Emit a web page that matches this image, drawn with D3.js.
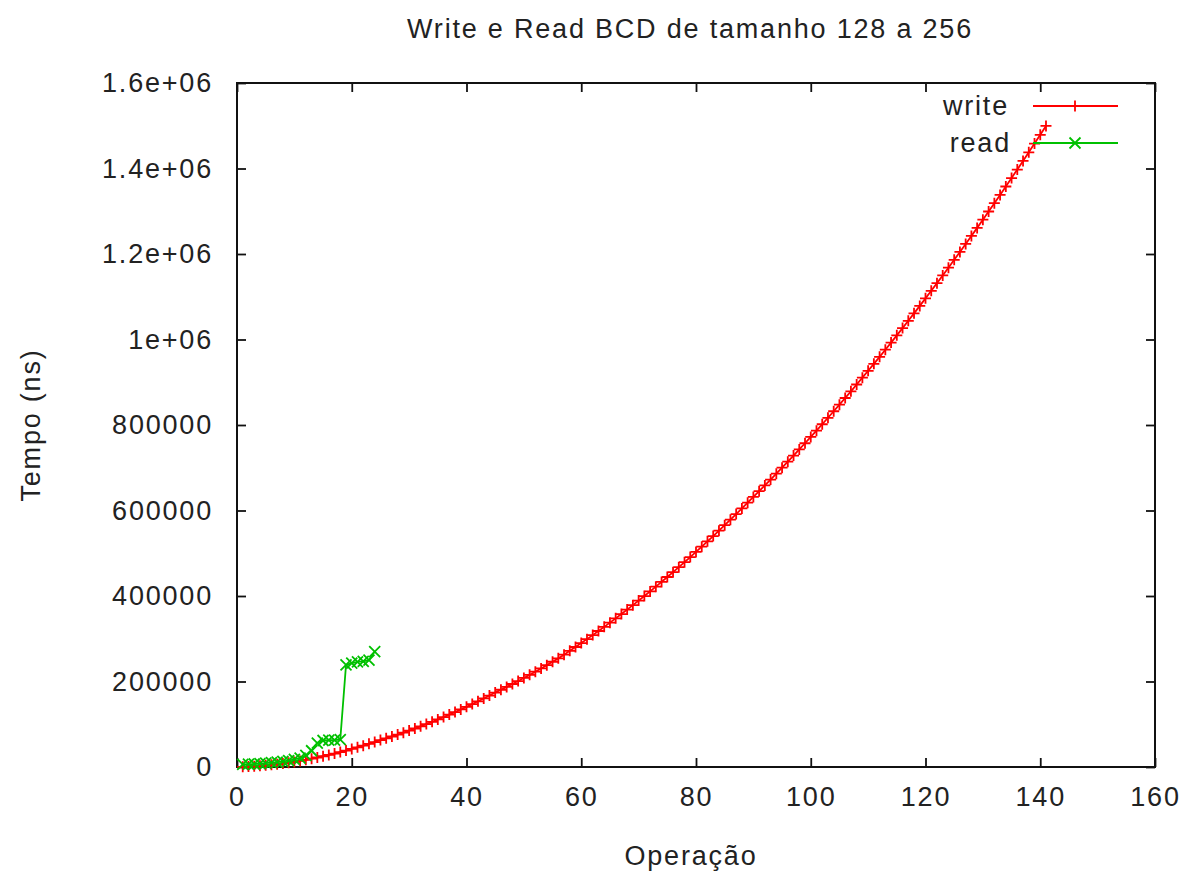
<!DOCTYPE html>
<html><head><meta charset="utf-8">
<script src="https://cdn.jsdelivr.net/npm/d3@7"></script>
<style>
html,body{margin:0;padding:0;background:#fff;}
svg text{font-family:"Liberation Sans",Arial,sans-serif;fill:#222;letter-spacing:1.8px;}
</style></head>
<body><svg id="c" width="1185" height="873"></svg>
<script>
const title = "Write e Read BCD de tamanho 128 a 256";
const xLabel = "Operação";
const yLabel = "Tempo (ns)";
const xTicks = [0,20,40,60,80,100,120,140,160];
const yTicks = [0,200000,400000,600000,800000,1000000,1200000,1400000,1600000];
const yTickLabels = ["0","200000","400000","600000","800000","1e+06","1.2e+06","1.4e+06","1.6e+06"];
const seriesNames = ["write","read"];

const writeX = d3.range(1,142);
const writeY = [
500,1200,2000,3000,4100,5300,6700,8300,10000,11800,
14200,16700,19400,22200,25200,28300,31500,35000,38500,42200,
46000,50000,54200,58400,62900,67000,71400,75800,80400,85200,
90100,95200,100300,105700,111200,116800,122600,128500,134600,140800,
147200,153700,160300,167100,174100,180700,187300,194200,201100,208300,
215500,223000,230500,238300,246200,254100,262800,271700,280700,289800,
299100,308500,318100,327800,337700,347700,357800,368200,378600,389200,
399900,410800,421900,433000,444400,455800,467500,479200,491100,503200,
515400,527800,540200,552900,565700,578600,591700,604900,618300,631800,
645200,658700,672300,686100,700100,714200,728400,742800,757300,772000,
786800,801800,816900,832200,847600,863100,878800,894700,910700,926800,
943100,959500,976100,992800,1009700,1026700,1043800,1061200,1078600,1096200,
1113900,1131800,1149900,1168000,1186400,1204800,1223500,1242200,1261100,1280200,
1299400,1318800,1338200,1357900,1377700,1397600,1417700,1437900,1458300,1478800,
1499500];

const readX = d3.range(1,25);
const readY = [6000,6500,7000,8000,9000,10000,11500,13000,15000,18000,
21000,27000,38000,56000,62000,63000,63000,64000,239000,243000,
246000,247000,250000,270000];

const svg = d3.select("#c");
const L=237, R=1155, T=83, B=767;
const x = d3.scaleLinear().domain([0,160]).range([L,R]);
const y = d3.scaleLinear().domain([0,1600000]).range([B,T]);
const red="#ff0000", green="#00c000";
const fs=27;

// title
svg.append("text").attr("x",690).attr("y",38).attr("text-anchor","middle")
  .style("font-size",fs+"px").text(title);

// axes with inward ticks + mirrors
const tl=9;
const axB = svg.append("g").attr("transform",`translate(0,${B})`)
  .call(d3.axisBottom(x).tickValues(xTicks).tickSizeInner(-tl).tickSizeOuter(0).tickPadding(20).tickFormat(d3.format("d")));
const axT = svg.append("g").attr("transform",`translate(0,${T})`)
  .call(d3.axisTop(x).tickValues(xTicks).tickSizeInner(-tl).tickSizeOuter(0).tickFormat(""));
const axL = svg.append("g").attr("transform",`translate(${L},0)`)
  .call(d3.axisLeft(y).tickValues(yTicks).tickSizeInner(-tl).tickSizeOuter(0).tickPadding(24)
    .tickFormat((d,i)=>yTickLabels[i]));
const axR = svg.append("g").attr("transform",`translate(${R},0)`)
  .call(d3.axisRight(y).tickValues(yTicks).tickSizeInner(-tl).tickSizeOuter(0).tickFormat(""));
[axB,axT,axL,axR].forEach(g=>{
  g.select(".domain").remove();
  g.selectAll(".tick line").attr("stroke","#111").attr("stroke-width",1.8);
  g.selectAll(".tick text").style("font-size",fs+"px").attr("fill","#222").style("font-family","Liberation Sans, Arial, sans-serif");
});
svg.append("rect").attr("x",L).attr("y",T).attr("width",R-L).attr("height",B-T)
  .attr("fill","none").attr("stroke","#111").attr("stroke-width",2);

// axis labels
svg.append("text").attr("x",691).attr("y",865).attr("text-anchor","middle")
  .style("font-size",fs+"px").text(xLabel);
svg.append("text").attr("transform","translate(40,425) rotate(-90)").attr("text-anchor","middle")
  .style("font-size",fs+"px").text(yLabel);

const hs=5.5;
function plus(g,px,py,col){
  g.append("path").attr("d",`M${px-hs},${py}H${px+hs}M${px},${py-hs}V${py+hs}`)
   .attr("stroke",col).attr("stroke-width",1.8).attr("fill","none");
}
function cross(g,px,py,col){
  g.append("path").attr("d",`M${px-hs},${py-hs}L${px+hs},${py+hs}M${px-hs},${py+hs}L${px+hs},${py-hs}`)
   .attr("stroke",col).attr("stroke-width",1.8).attr("fill","none");
}
const line = d3.line().x(d=>x(d[0])).y(d=>y(d[1]));
const wData = writeX.map((v,i)=>[v,writeY[i]]);
const rData = readX.map((v,i)=>[v,readY[i]]);

const gW = svg.append("g");
gW.append("path").datum(wData).attr("d",line).attr("fill","none").attr("stroke",red).attr("stroke-width",1.8);
wData.forEach(d=>plus(gW,x(d[0]),y(d[1]),red));

// legend
const gLeg = svg.append("g");
gLeg.append("text").attr("x",1009).attr("y",106).attr("dy","0.35em").attr("text-anchor","end").style("font-size",fs+"px").text(seriesNames[0]);
gLeg.append("line").attr("x1",1033).attr("x2",1118).attr("y1",106).attr("y2",106).attr("stroke",red).attr("stroke-width",1.8);
plus(gLeg,1075,106,red);
gLeg.append("text").attr("x",1011).attr("y",143).attr("dy","0.35em").attr("text-anchor","end").style("font-size",fs+"px").text(seriesNames[1]);

const gR = svg.append("g");
gR.append("path").datum(rData).attr("d",line).attr("fill","none").attr("stroke",green).attr("stroke-width",1.8);
rData.forEach(d=>cross(gR,x(d[0]),y(d[1]),green));
gLeg.append("line").attr("x1",1033).attr("x2",1118).attr("y1",143).attr("y2",143).attr("stroke",green).attr("stroke-width",1.8);
cross(gLeg,1075,143,green);
</script></body></html>
